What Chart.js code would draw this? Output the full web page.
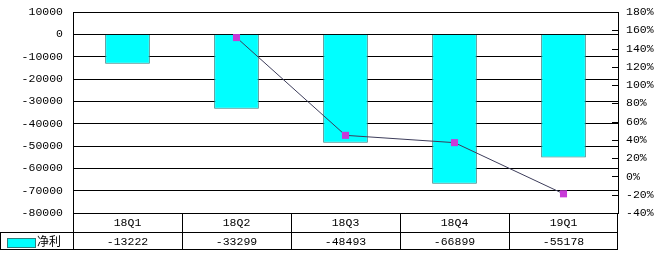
<!DOCTYPE html>
<html><head><meta charset="utf-8">
<script src="https://cdn.jsdelivr.net/npm/chart.js@4"></script>
<style>html,body{margin:0;padding:0;background:#fff}#w{width:660px;height:254px}</style>
</head><body><div id="w"><canvas id="c"></canvas></div>
<script>
const categories = ['18Q1','18Q2','18Q3','18Q4','19Q1'];
const netProfit = [-13222,-33299,-48493,-66899,-55178];
const growthPct = [null,152,45,37,-19];
const seriesName = '净利';
const leftTicks = {min:-80000,max:10000,step:10000};
const rightTicks = {min:-40,max:180,step:20};

const FONT = '11.5px "Liberation Mono", "DejaVu Sans Mono", monospace';
const CJK = '12px "Noto Sans CJK SC", sans-serif';

const tablePlugin = {
  id:'table',
  afterDraw(chart){
    const ctx = chart.ctx, x = chart.scales.x, ca = chart.chartArea;
    const top = ca.bottom, r1 = top+19, r2 = top+36;
    ctx.save();
    ctx.strokeStyle = '#000'; ctx.lineWidth = 1;
    const L = ca.left, R = ca.right;
    ctx.beginPath();
    ctx.moveTo(L, r1+0.5); ctx.lineTo(R, r1+0.5);
    ctx.moveTo(0, r1+0.5); ctx.lineTo(L, r1+0.5);
    ctx.moveTo(0, r2+0.5); ctx.lineTo(R, r2+0.5);
    ctx.moveTo(0.5, r1); ctx.lineTo(0.5, r2);
    ctx.moveTo(Math.round(L)+0.5, top); ctx.lineTo(Math.round(L)+0.5, r2);
    ctx.moveTo(Math.round(R)-0.5, top); ctx.lineTo(Math.round(R)-0.5, r2);
    for(let i=1;i<categories.length;i++){
      const bx = Math.round((x.getPixelForValue(i-1)+x.getPixelForValue(i))/2)+0.5;
      ctx.moveTo(bx, top); ctx.lineTo(bx, r2);
    }
    ctx.stroke();
    ctx.fillStyle = '#000'; ctx.textAlign='center'; ctx.textBaseline='middle';
    ctx.font = FONT;
    categories.forEach((c,i)=>{
      const px = x.getPixelForValue(i);
      ctx.fillText(c, px, top+10);
      ctx.fillText(String(netProfit[i]), px, r1+10);
    });
    ctx.fillStyle = '#00FFFF'; ctx.fillRect(7.5, r1+6.5, 28, 9);
    ctx.strokeStyle = '#2f7f7f'; ctx.strokeRect(7.5, r1+6.5, 28, 9);
    ctx.fillStyle = '#000'; ctx.font = CJK; ctx.textAlign='left';
    ctx.fillText(seriesName, 37, r1+9);
    const y2 = chart.scales.y2;
    ctx.beginPath();
    for(let v=rightTicks.min; v<=rightTicks.max; v+=rightTicks.step){
      const py = Math.round(y2.getPixelForValue(v))+0.5;
      ctx.moveTo(R-6, py); ctx.lineTo(R, py);
    }
    ctx.strokeStyle='#000'; ctx.stroke();
    ctx.restore();
  }
};

function fitW(w){ return function(s){ s.width=w; s.paddingTop=0; s.paddingBottom=0; }; }

new Chart(document.getElementById('c'), {
  data:{
    labels: categories,
    datasets:[
      {type:'line', label:'growth', data:growthPct, yAxisID:'y2', borderColor:'#3c3c5a', borderWidth:1,
       pointStyle:'rect', pointRadius:5, pointBackgroundColor:'#c83ad8', pointBorderColor:'#c83ad8', pointBorderWidth:0,
       spanGaps:true, tension:0, order:0},
      {type:'bar', label:seriesName, data:netProfit, yAxisID:'y', backgroundColor:'#00FFFF', borderColor:'#2f7f7f',
       borderWidth:1, barPercentage:0.41, categoryPercentage:1, order:1}
    ]
  },
  options:{
    responsive:true, maintainAspectRatio:false, animation:false,
    layout:{padding:{top:12,bottom:41,left:0,right:0}},
    plugins:{legend:{display:false}, tooltip:{enabled:false}},
    scales:{
      x:{display:false, offset:true},
      y:{position:'left', min:leftTicks.min, max:leftTicks.max,
         afterFit:fitW(73),
         ticks:{stepSize:leftTicks.step, color:'#000', font:{family:'"Liberation Mono"', size:11.5}, padding:10,
           callback:v=>String(v)},
         grid:{color:'#000', lineWidth:1, drawTicks:false},
         border:{display:true, color:'#000'}},
      y2:{position:'right', min:rightTicks.min, max:rightTicks.max,
         afterFit:fitW(42),
         ticks:{stepSize:rightTicks.step, color:'#000', font:{family:'"Liberation Mono"', size:11.5}, padding:8,
           callback:v=>v+'%'},
         grid:{drawOnChartArea:false, drawTicks:false},
         border:{display:true, color:'#000'}}
    }
  },
  plugins:[tablePlugin]
});
</script></body></html>
